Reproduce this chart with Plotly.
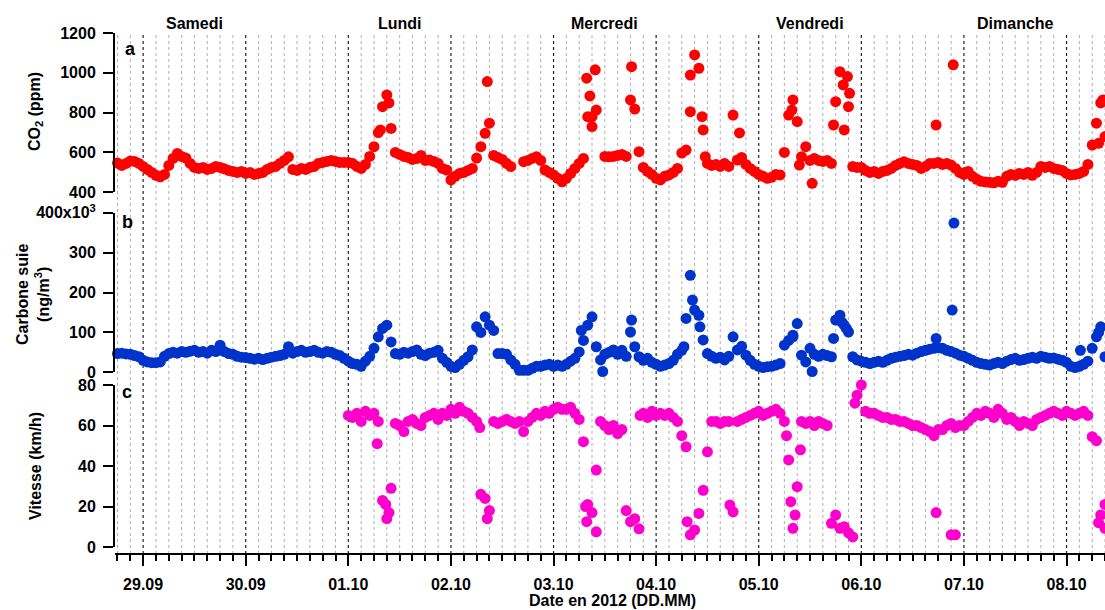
import pandas as pd
import plotly.graph_objects as go

# ---------------- data (hourly from 28.09.2012 18:00) ----------------
start_time = "2012-09-28 18:00"

co2 = [
    547, 535, 545, 557, 555, 545,
    # 29.09
    530, 515, 500, 485, 478, 490, 535, 570, 595, 580, 572, 545, 525, 520, 525, 515, 520, 530, 525, 518, 510, 505, 500, 505,
    # 30.09
    495, 500, 490, 495, 500, 515, 525, 530, 545, 560, 578, 515, 510, 520, 515, 525, 530, 545, 550, 555, 560, 555, 550, 550,
    # 01.10
    550, 545, 530, 520, 540, 580, 629, 700, 830, 889, 721, 600, 590, 580, 575, 565, 570, 585, 560, 562, 555, 545, 520, 512,
    # 02.10
    462, 480, 495, 500, 510, 520, 572, 629, 696, 747, 585, 575, 565, 545, 529, None, None, 554, 560, 570, 579, 560, 512, 500,
    # 03.10
    487, 470, 453, 470, 495, 520, 545, 570, 780, 730, 813, None, 580, 578, 580, 585, 590, 580, 864, 818, 604, 525, 505, 490,
    # 04.10
    470, 462, 480, 487, 500, 520, 597, 612, 805, 1090, 1023, 713, 545, 535, 540, 530, 545, 530, 788, 562, 575, 540, 520, 505,
    # 05.10
    490, 480, 470, 475, 490, 487, 600, 788, 864, 755, 579, 629, 560, 570, 560, 555, 560, 545, 855, 1006, 713, 830, 529, 525,
    # 06.10
    525, 510, 500, 505, 495, 505, 510, 520, 535, 545, 553, 545, 540, 535, 520, 530, 545, 545, 550, 540, 545, 537, 520, 500,
    # 07.10
    490, 505, 480, 465, 455, 452, 450, 448, 455, 450, 480, 490, 485, 495, 490, 500, 485, 500, 530, 525, 530, 520, 515, 510,
    # 08.10
    495, 487, 490, 495, 505, 540, 637, 747, 849, 680,
]

co2_extra_time = [
    "2012-10-01 07:30", "2012-10-01 09:30", "2012-10-02 08:30",
    "2012-10-03 07:45", "2012-10-03 08:30", "2012-10-03 09:45", "2012-10-03 09:00", "2012-10-03 18:15",
    "2012-10-04 08:00", "2012-10-04 10:45", "2012-10-04 11:30", "2012-10-04 19:30",
    "2012-10-05 07:45", "2012-10-05 09:30", "2012-10-05 12:30", "2012-10-05 17:30",
    "2012-10-05 19:45", "2012-10-05 20:45", "2012-10-05 21:15",
    "2012-10-06 17:30", "2012-10-06 21:30", "2012-10-08 07:30", "2012-10-08 08:30",
]
co2_extra = [713, 849, 956, 973, 884, 1015, 780, 1031, 989, 780, 579, 698,
             813, 537, 445, 738, 939, 981, 897, 738, 1040, 646, 864]

bc = [
    47, 48, 46, 45, 42, 39,
    # 29.09
    30, 26, 24, 24, 26, 40, 47, 50, 48, 52, 50, 53, 55, 50, 52, 48, 55, 52, 68, 52, 47, 45, 40, 38,
    # 30.09
    37, 35, 33, 35, 32, 35, 38, 40, 42, 45, 64, 48, 52, 55, 50, 52, 55, 50, 48, 52, 50, 45, 42, 35,
    # 01.10
    28, 22, 20, 15, 28, 40, 60, 89, 110, 118, 76, 47, 45, 50, 48, 52, 56, 45, 42, 48, 50, 55, 35, 25,
    # 02.10
    15, 12, 20, 30, 39, 56, 114, 100, 139, 118, 105, 47, 47, 45, 31, 20, 5, 5, 5, 10, 15, 15, 18, 20,
    # 03.10
    15, 18, 15, 20, 28, 35, 51, 80, 118, 139, 64, 31, 45, 50, 56, 45, 55, 40, 101, 64, 39, 30, 35, 25,
    # 04.10
    20, 15, 18, 22, 30, 45, 55, 135, 243, 156, 143, 81, 47, 40, 35, 38, 31, 40, 89, 56, 65, 43, 30, 20,
    # 05.10
    15, 12, 14, 15, 18, 22, 68, 80, 89, 122, 43, 26, 60, 45, 40, 45, 42, 39, 131, 143, 118, 101, 39, 31,
    # 06.10
    28, 25, 22, 25, 28, 25, 30, 35, 38, 40, 42, 45, 43, 48, 52, 55, 58, 60, 62, 60, 55, 52, 48, 43,
    # 07.10
    40, 35, 30, 25, 22, 20, 18, 22, 25, 22, 28, 32, 35, 30, 32, 35, 38, 35, 40, 38, 35, 36, 33, 30,
    # 08.10
    25, 15, 12, 15, 20, 28, 60, 89, 114, 39,
]

bc_extra_time = [
    "2012-10-03 06:30", "2012-10-03 11:30", "2012-10-03 18:15",
    "2012-10-04 06:30", "2012-10-04 08:30", "2012-10-04 10:15",
    "2012-10-05 08:00", "2012-10-05 12:30", "2012-10-05 17:30", "2012-10-05 19:30", "2012-10-05 20:30",
    "2012-10-06 17:30", "2012-10-06 21:15", "2012-10-06 21:40",
    "2012-10-08 03:15", "2012-10-08 07:30",
]
bc_extra = [105, 2, 131, 64, 181, 114, 93, 2, 85, 125, 110, 85, 156, 374, 55, 100]

speed = [None] * 54 + [
    # 01.10
    65, 64, 66, 62, 67, 65, 66, 62, 23, 14, 29, 61, 60, 57, 62, 63, 61, 60, 64, 65, 66, 63, 66, 65,
    # 02.10
    68, 66, 69, 67, 66, 64, 62, 26, 24, 18, 62, 61, 62, 63, 62, 61, 62, 57, 62, 64, 66, 65, 67, 66,
    # 03.10
    68, 69, 68, 68, 69, 66, 63, 52, 21, 17, 7.5, 62, 60, 58, 60, 56, 58, 18, 12.5, 14, 9, 66, 64, 67,
    # 04.10
    65, 66, 65, 66, 64, 62, 55, 49.5, 6, 8.4, 16.6, 28, 47, 62, 62, 61, 62, 62, 17.4, 62, 63, 64, 65, 66,
    # 05.10
    67, 65, 66, 67, 68, 66, 62, 43, 9.2, 29.8, 62, 61, 62, 60, 62, 61, 60, 11.7, 15.8, 9.2, 10, 7, 5, 75,
    # 06.10
    80, 67, 66, 66, 65, 64, 64, 63, 63, 62, 62, 61, 60, 60, 59, 58, 57, 55, 58, 58, 60, 6, 6, 60,
    # 07.10
    60, 62, 64, 66, 65, 67, 66, 64, 68, 66, 63, 64, 62, 60, 62, 61, 60, 63, 64, 65, 66, 67, 66, 65,
    # 08.10
    67, 66, 65, 66, 67, 65, 54.5, 52.5, 15.8, 9.2,
]

speed_extra_time = [
    "2012-10-01 06:45", "2012-10-01 08:45", "2012-10-01 09:30",
    "2012-10-02 06:45", "2012-10-02 08:30",
    "2012-10-03 07:30", "2012-10-03 07:45", "2012-10-03 10:00", "2012-10-03 20:15",
    "2012-10-04 07:15", "2012-10-04 17:15",
    "2012-10-05 06:30", "2012-10-05 07:30", "2012-10-05 08:30", "2012-10-05 09:45", "2012-10-05 22:30",
    "2012-10-06 17:30", "2012-10-06 21:00", "2012-10-06 22:00",
    "2012-10-08 07:30", "2012-10-08 09:00",
]
speed_extra = [51, 21, 17, 59, 14, 20, 12.5, 38, 65, 12.5, 20.7,
               55, 22.4, 15.8, 48, 71, 17, 61, 59, 12, 21]

day_names = ["Samedi", "Lundi", "Mercredi", "Vendredi", "Dimanche"]
day_name_dates = ["2012-09-29 12:00", "2012-10-01 12:00", "2012-10-03 12:00",
                  "2012-10-05 12:00", "2012-10-07 12:00"]

co2_ticks = [400, 600, 800, 1000, 1200]
bc_ticks = [0, 100, 200, 300, 400]
bc_ticktext = ["0", "100", "200", "300", "400x10<sup>3</sup>"]
speed_ticks = [0, 20, 40, 60, 80]

x_range = ["2012-09-28 17:25", "2012-10-08 09:00"]

# ---------------- figure ----------------
times = pd.date_range(start_time, periods=len(co2), freq="h")

RED = "#FF0000"
BLUE = "#0033CC"
MAG = "#FF00CC"
MS = 11
FONT = "Arial, Liberation Sans, sans-serif"

W, H = 1105, 610
def py(pix):
    return (H - pix) / H

fig = go.Figure()

def add(t, v, color, yax):
    fig.add_trace(go.Scatter(x=t, y=v, mode="markers", yaxis=yax, xaxis="x",
                             marker=dict(color=color, size=MS, line=dict(width=0)),
                             cliponaxis=False, showlegend=False, hoverinfo="x+y"))

add(times, co2, RED, "y")
add(pd.to_datetime(co2_extra_time), co2_extra, RED, "y")
add(times, bc, BLUE, "y2")
add(pd.to_datetime(bc_extra_time), bc_extra, BLUE, "y2")
add(times, speed, MAG, "y3")
add(pd.to_datetime(speed_extra_time), speed_extra, MAG, "y3")

tickfont = dict(family=FONT, size=16, color="black", weight="bold")
yax_common = dict(anchor="x", showgrid=False, zeroline=False, showline=True,
                  linecolor="black", linewidth=2, ticks="outside", ticklen=10,
                  tickwidth=2, tickcolor="black", tickfont=tickfont,
                  ticklabelstandoff=4, fixedrange=True, automargin=False)

x_bottom = py(554)
x_top = py(33)

fig.update_layout(
    width=W, height=H, autosize=False,
    margin=dict(l=115, r=0, t=0, b=0, pad=0, autoexpand=False),
    paper_bgcolor="white", plot_bgcolor="white",
    font=dict(family=FONT, color="black"),
    xaxis=dict(type="date", range=x_range, anchor="free", position=x_bottom,
               automargin=False, fixedrange=True,
               showgrid=False, zeroline=False, showline=True, linecolor="black",
               linewidth=2, ticks="outside", ticklen=11, tickwidth=2,
               tickcolor="black", dtick=86400000, tick0="2012-09-29",
               tickformat="%d.%m", tickfont=tickfont, ticklabelstandoff=5,
               minor=dict(dtick=3 * 3600000, ticks="outside", ticklen=6,
                          tickwidth=2, tickcolor="black", showgrid=False)),
    yaxis=dict(domain=[py(192.3), py(33)], range=[400, 1200], tickvals=co2_ticks, **yax_common),
    yaxis2=dict(domain=[py(372.3), py(212.7)], range=[0, 400], tickvals=bc_ticks,
                ticktext=bc_ticktext, **yax_common),
    yaxis3=dict(domain=[py(547), py(385)], range=[0, 80], tickvals=speed_ticks, **yax_common),
)

# vertical grid lines (3 hours minor, day major)
grid_times = pd.date_range("2012-09-28 18:00", "2012-10-08 09:00", freq="3h")
for gt in grid_times:
    is_day = gt.hour == 0
    fig.add_shape(type="line", xref="x", yref="paper", x0=gt, x1=gt,
                  y0=x_bottom, y1=x_top, layer="below",
                  line=dict(color="#222222" if is_day else "#b0b0b0",
                            width=1.2 if is_day else 1, dash="dot"))

bold16 = dict(family=FONT, size=16, color="black", weight="bold")

for name, d in zip(day_names, day_name_dates):
    fig.add_annotation(x=d, xref="x", y=py(24), yref="paper", text=name,
                       showarrow=False, font=bold16, xanchor="center", yanchor="middle")

def px_x(pix):
    return (pix - 115) / (W - 115)

for letter, (lx, ly) in zip(["a", "b", "c"], [(130, 49), (127, 222), (127, 392)]):
    fig.add_annotation(x=px_x(lx), xref="paper", y=py(ly), yref="paper", text=letter,
                       showarrow=False, font=dict(family=FONT, size=18, color="black", weight="bold"),
                       xanchor="center", yanchor="middle")

fig.add_annotation(x=px_x(35), xref="paper", y=py(112), yref="paper",
                   text="CO<sub>2</sub> (ppm)", textangle=-90, showarrow=False,
                   font=bold16, xanchor="center", yanchor="middle")
fig.add_annotation(x=px_x(33), xref="paper", y=py(295), yref="paper",
                   text="Carbone suie<br>(ng/m<sup>3</sup>)", textangle=-90, showarrow=False,
                   font=bold16, xanchor="center", yanchor="middle")
fig.add_annotation(x=px_x(35), xref="paper", y=py(466), yref="paper",
                   text="Vitesse (km/h)", textangle=-90, showarrow=False,
                   font=bold16, xanchor="center", yanchor="middle")
fig.add_annotation(x=px_x(612), xref="paper", y=py(600), yref="paper",
                   text="Date en 2012 (DD.MM)", showarrow=False,
                   font=bold16, xanchor="center", yanchor="middle")

fig.write_html("out.html", config={"displayModeBar": False, "staticPlot": True},
               post_script="document.body.style.margin='0px';")
